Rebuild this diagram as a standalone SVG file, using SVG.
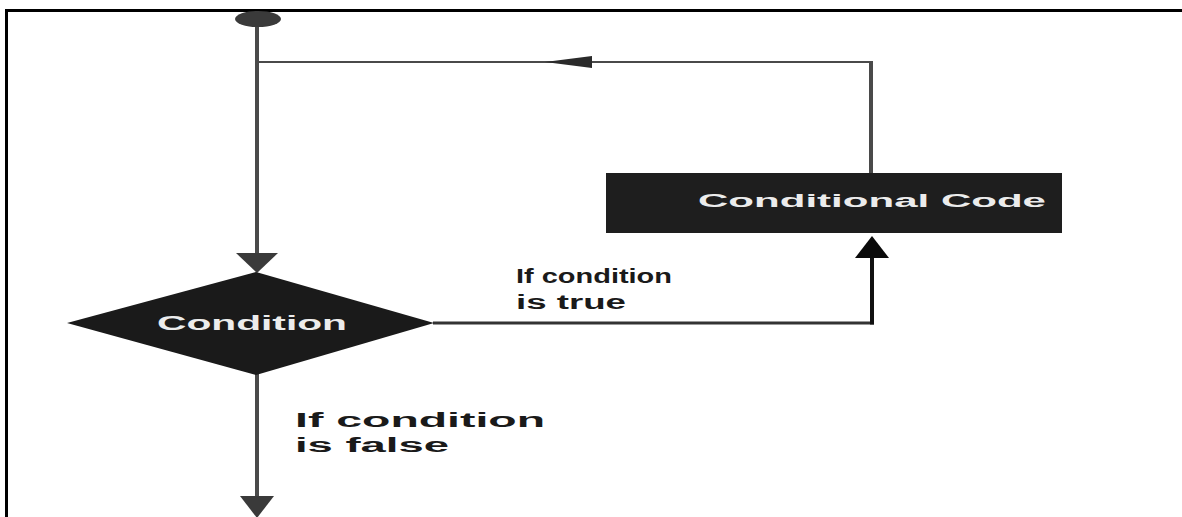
<svg xmlns="http://www.w3.org/2000/svg" width="1182" height="517" viewBox="0 0 1182 517">
<style>
.lbl{font-family:"Liberation Sans",Arial,sans-serif;font-weight:bold;font-size:20px;fill:#1a1a1a}
.wt{font-family:"Liberation Sans",Arial,sans-serif;font-weight:bold;fill:#ececec}
.ln{fill:none;stroke:#4a4a4a}
</style>
<rect width="1182" height="517" fill="#fff"/>
<g id="frame">
<line x1="5" y1="10.5" x2="1182" y2="10.5" stroke="#000" stroke-width="3"/>
<line x1="6.5" y1="9" x2="6.5" y2="517" stroke="#000" stroke-width="3"/>
</g>
<g id="connectors">
<line class="ln" x1="257" y1="24" x2="257" y2="255" stroke-width="4"/>
<polygon points="236,253 278,253 257,273" fill="#3a3a3a"/>
<line class="ln" x1="257" y1="62" x2="873" y2="62" stroke-width="2"/>
<polygon points="545,62 592,56 592,68" fill="#2a2a2a"/>
<line class="ln" x1="871" y1="61" x2="871" y2="174" stroke-width="4"/>
<line x1="433" y1="323" x2="874" y2="323" stroke="#333" stroke-width="3"/>
<line x1="872" y1="324.5" x2="872" y2="255" stroke="#111" stroke-width="4"/>
<polygon points="855,258 889,258 872,236" fill="#0a0a0a"/>
<line class="ln" x1="257" y1="374" x2="257" y2="498" stroke-width="4"/>
<polygon points="240,496 274,496 257,518" fill="#3a3a3a"/>
<text class="lbl" x="516" y="283" font-size="21" textLength="156" lengthAdjust="spacingAndGlyphs">If condition</text>
<text class="lbl" x="516" y="309" font-size="21" textLength="110" lengthAdjust="spacingAndGlyphs">is true</text>
<text class="lbl" x="295" y="427" textLength="250" lengthAdjust="spacingAndGlyphs">If condition</text>
<text class="lbl" x="295" y="452" textLength="154" lengthAdjust="spacingAndGlyphs">is false</text>
</g>
<g id="start">
<ellipse cx="258" cy="19" rx="23" ry="8" fill="#3a3a3a"/>
</g>
<g id="condition">
<polygon points="67,323 256,272 434,323 256,375" fill="#1a1a1a"/>
<text class="wt" x="157" y="330" font-size="20" textLength="190" lengthAdjust="spacingAndGlyphs">Condition</text>
</g>
<g id="code">
<rect x="606" y="173" width="456" height="60" fill="#1e1e1e"/>
<text class="wt" x="698" y="207" font-size="18" textLength="348" lengthAdjust="spacingAndGlyphs">Conditional Code</text>
</g>
</svg>
